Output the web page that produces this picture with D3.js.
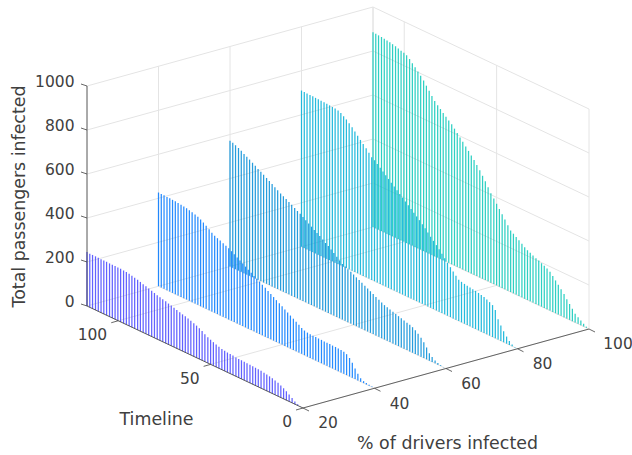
<!DOCTYPE html>
<html>
<head>
<meta charset="utf-8">
<title>Passengers infected</title>
<script src="https://cdn.jsdelivr.net/npm/d3@7"></script>
<style>
    html, body { margin: 0; padding: 0; background: #fff; }
    svg { display: block; }
    text { font-family: "DejaVu Sans", sans-serif; fill: #404040; }
</style>
</head>
<body>
<svg id="chart" width="632" height="455"></svg>
<script>
var driverTicks = [20, 40, 60, 80, 100],
    timelineTicks = [0, 50, 100],
    passengerTicks = [0, 200, 400, 600, 800, 1000],
    drivers = [100, 80, 60, 40, 20],
    colors = ["#0ac8b9", "#00afd7", "#008cd7", "#0078ff", "#4646ff"];

// timeline position of every stem, oldest first
var timeline = [116.9, 115.4, 113.9, 112.3, 110.8, 109.3, 107.8, 106.3, 104.7, 103.2,
    101.7, 100.2, 98.7, 97.1, 95.6, 94.1, 92.6, 91.1, 89.5, 88.0,
    86.5, 85.0, 83.5, 81.9, 80.4, 78.9, 77.4, 75.9, 74.3, 72.8,
    71.3, 69.8, 68.3, 66.7, 65.2, 63.7, 62.2, 60.7, 59.1, 57.6,
    56.1, 54.6, 53.1, 51.5, 50.0, 48.5, 47.0, 45.5, 43.9, 42.4,
    40.9, 39.4, 37.9, 36.3, 34.8, 33.3, 31.8, 30.3, 28.7, 27.2,
    25.7, 24.2, 22.7, 21.1, 19.6, 18.1, 16.6, 15.1, 13.5, 12.0,
    10.5, 9.0, 7.5, 5.9, 4.4, 2.9, 1.4, 0];

var infected20 = [245, 244, 244, 244, 243, 243, 243, 243, 242, 242,
    242, 241, 241, 240, 239, 237, 234, 231, 228, 224,
    220, 216, 212, 208, 204, 200, 197, 193, 190, 186,
    183, 179, 175, 171, 167, 164, 160, 156, 151, 146,
    140, 133, 125, 117, 112, 107, 102, 98, 94, 92,
    90, 89, 88, 86, 85, 85, 84, 83, 83, 82,
    81, 80, 79, 77, 75, 72, 69, 65, 61, 55,
    48, 40, 32, 22, 12, 5, 1, 0];

var infected40 = [426, 425, 425, 424, 424, 423, 422, 421, 419, 417,
    415, 412, 409, 405, 400, 394, 386, 377, 368, 358,
    350, 345, 340, 334, 329, 323, 316, 308, 300, 292,
    284, 276, 268, 260, 252, 245, 238, 230, 222, 214,
    206, 198, 190, 182, 174, 166, 158, 150, 142, 134,
    126, 118, 112, 109, 108, 107, 107, 106, 106, 105,
    105, 105, 104, 104, 103, 102, 100, 95, 84, 68,
    48, 30, 16, 9, 6, 4, 2, 0];

var infected60 = [572, 568, 563, 557, 550, 542, 535, 528, 520, 512,
    504, 497, 489, 481, 473, 465, 457, 449, 441, 434,
    427, 420, 413, 405, 397, 390, 382, 373, 364, 356,
    347, 339, 331, 322, 312, 304, 294, 284, 274, 263,
    252, 247, 241, 235, 229, 222, 216, 209, 202, 196,
    189, 182, 175, 169, 162, 156, 152, 148, 144, 140,
    136, 132, 128, 124, 121, 116, 108, 98, 86, 72,
    54, 34, 22, 13, 7, 3, 1, 0];

var infected80 = [710, 709, 709, 708, 708, 707, 707, 706, 705, 704,
    703, 702, 701, 698, 692, 684, 675, 664, 652, 639,
    625, 612, 599, 586, 572, 558, 550, 539, 528, 517,
    506, 495, 484, 473, 462, 451, 440, 429, 418, 407,
    396, 385, 374, 362, 349, 336, 323, 310, 297, 284,
    270, 255, 240, 227, 213, 200, 188, 184, 181, 179,
    177, 175, 173, 170, 167, 163, 158, 152, 145, 128,
    92, 70, 50, 32, 18, 8, 2, 0];

var infected100 = [885, 884, 883, 882, 880, 878, 876, 873, 870, 866,
    861, 858, 853, 842, 829, 816, 803, 790, 775, 757,
    740, 722, 705, 692, 681, 669, 658, 647, 636, 622,
    608, 594, 580, 565, 551, 536, 522, 505, 487, 468,
    449, 428, 407, 389, 371, 353, 335, 317, 298, 280,
    271, 262, 253, 243, 234, 226, 220, 214, 208, 203,
    197, 191, 185, 176, 163, 149, 135, 121, 105, 88,
    72, 56, 40, 30, 21, 12, 5, 0];

var seriesValues = [infected100, infected80, infected60, infected40, infected20];

var svg = d3.select("#chart"),
    originX = 303,
    originY = 408,
    timeMax = 116.9,
    zMax = 1000;

// oblique view: each data axis moves the point along its own screen direction
var xToPx = d3.scaleLinear().domain([20, 100]).range([0, 286]),
    xToPy = d3.scaleLinear().domain([20, 100]).range([0, -79]),
    yToPx = d3.scaleLinear().domain([0, timeMax]).range([0, -216]),
    yToPy = d3.scaleLinear().domain([0, timeMax]).range([0, -102]),
    zToPy = d3.scaleLinear().domain([0, zMax]).range([0, -220]);

function px(x, y) {
    return originX + xToPx(x) + yToPx(y);
}

function py(x, y, z) {
    return originY + xToPy(x) + yToPy(y) + zToPy(z);
}

function segment(parent, cls, rows, stroke, width) {
    return parent.selectAll("line." + cls)
        .data(rows)
        .enter().append("line")
        .attr("class", cls)
        .attr("x1", function (d) { return px(d[0][0], d[0][1]); })
        .attr("y1", function (d) { return py(d[0][0], d[0][1], d[0][2]); })
        .attr("x2", function (d) { return px(d[1][0], d[1][1]); })
        .attr("y2", function (d) { return py(d[1][0], d[1][1], d[1][2]); })
        .attr("stroke", stroke)
        .attr("stroke-width", width);
}

// grid on the floor and on the two back walls
var gridRows = [];
driverTicks.forEach(function (x) {
    gridRows.push([[x, 0, 0], [x, timeMax, 0]]);
    gridRows.push([[x, timeMax, 0], [x, timeMax, zMax]]);
});
timelineTicks.forEach(function (y) {
    gridRows.push([[20, y, 0], [100, y, 0]]);
    gridRows.push([[100, y, 0], [100, y, zMax]]);
});
passengerTicks.forEach(function (z) {
    gridRows.push([[20, timeMax, z], [100, timeMax, z]]);
    gridRows.push([[100, timeMax, z], [100, 0, z]]);
});
gridRows.push([[100, timeMax, 0], [100, timeMax, zMax]]);
segment(svg.append("g"), "grid", gridRows, "#e4e4e4", 1);

// stems, back series first so the front ones sit on top
drivers.forEach(function (x, s) {
    var rows = [];
    seriesValues[s].forEach(function (v, i) {
        if (v > 0) {
            rows.push([[x, timeline[i], 0], [x, timeline[i], v]]);
        }
    });
    segment(svg.append("g"), "stem", rows, colors[s], 1.25).attr("stroke-opacity", 0.85);
});

// axis lines and tick marks
var axisG = svg.append("g");
segment(axisG, "axis", [
    [[20, 0, 0], [100, 0, 0]],
    [[20, 0, 0], [20, timeMax, 0]],
    [[20, timeMax, 0], [20, timeMax, zMax]]
], "#404040", 0.8);

var tickG = svg.append("g");
driverTicks.forEach(function (x) {
    tickG.append("line")
        .attr("x1", px(x, 0)).attr("y1", py(x, 0, 0))
        .attr("x2", px(x, 0) + 6).attr("y2", py(x, 0, 0) + 3)
        .attr("stroke", "#404040").attr("stroke-width", 0.8);
    svg.append("text")
        .attr("x", px(x, 0) + (x === 100 ? 29 : 25))
        .attr("y", py(x, 0, 0) + 15)
        .attr("dy", "0.35em")
        .attr("text-anchor", "middle")
        .attr("font-size", 15.5)
        .text(x);
});
timelineTicks.forEach(function (y) {
    tickG.append("line")
        .attr("x1", px(20, y)).attr("y1", py(20, y, 0))
        .attr("x2", px(20, y) - 7).attr("y2", py(20, y, 0) + 2)
        .attr("stroke", "#404040").attr("stroke-width", 0.8);
    svg.append("text")
        .attr("x", px(20, y) - 11)
        .attr("y", py(20, y, 0) + 14)
        .attr("dy", "0.35em")
        .attr("text-anchor", "end")
        .attr("font-size", 15.5)
        .text(y);
});
passengerTicks.forEach(function (z) {
    tickG.append("line")
        .attr("x1", px(20, timeMax)).attr("y1", py(20, timeMax, z))
        .attr("x2", px(20, timeMax) - 6).attr("y2", py(20, timeMax, z) - 2)
        .attr("stroke", "#404040").attr("stroke-width", 0.8);
    svg.append("text")
        .attr("x", px(20, timeMax) - 12.5)
        .attr("y", py(20, timeMax, z) - 4.5)
        .attr("dy", "0.35em")
        .attr("text-anchor", "end")
        .attr("font-size", 15.5)
        .text(z);
});

// axis titles
svg.append("text")
    .attr("x", 156.5).attr("y", 419).attr("dy", "0.35em")
    .attr("text-anchor", "middle").attr("font-size", 17.4)
    .text("Timeline");
svg.append("text")
    .attr("x", 447.5).attr("y", 443).attr("dy", "0.35em")
    .attr("text-anchor", "middle").attr("font-size", 17.4)
    .text("% of drivers infected");
svg.append("text")
    .attr("transform", "translate(19,196.5) rotate(-90)")
    .attr("dy", "0.35em")
    .attr("text-anchor", "middle").attr("font-size", 17.4)
    .text("Total passengers infected");
</script>
</body>
</html>
